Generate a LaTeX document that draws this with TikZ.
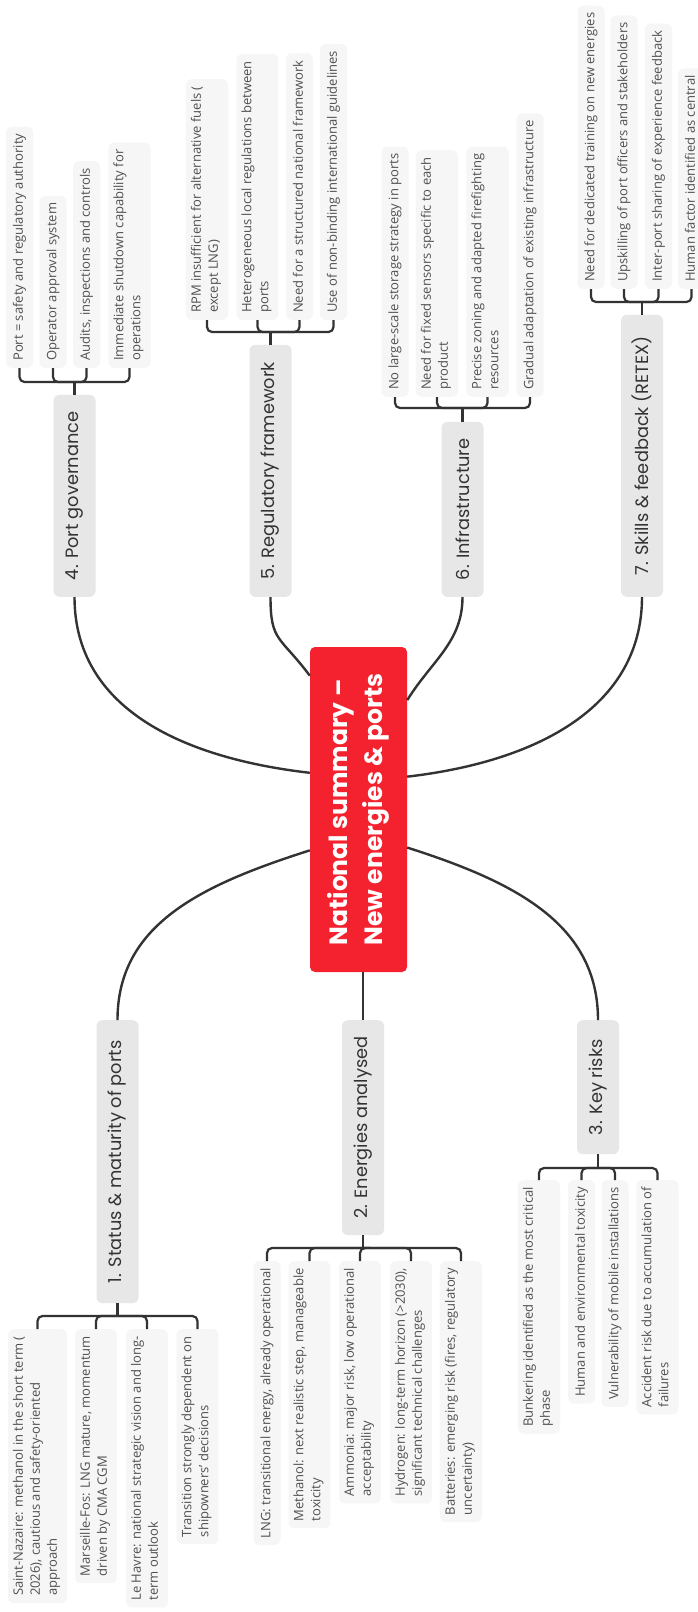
\documentclass[tikz,border=0pt]{standalone}
\usepackage{fontspec}
\setmainfont{Open Sans}
\newfontfamily\headfont{Poppins}
\usepackage{tikz}
\usetikzlibrary{calc}
\definecolor{rootred}{RGB}{244,33,46}
\definecolor{branchgray}{RGB}{231,231,231}
\definecolor{leafgray}{RGB}{246,246,246}
\definecolor{inkgray}{RGB}{51,51,51}
\definecolor{leafink}{RGB}{80,80,80}
\tikzset{
  root/.style={rotate=90, fill=rootred, rounded corners=5pt, text=white,
    font=\headfont\bfseries\fontsize{25}{35}\selectfont, align=left,
    minimum width=325pt, minimum height=97pt, inner sep=0pt},
  branch/.style={rotate=90, fill=branchgray, rounded corners=6pt, text=inkgray,
    font=\headfont\fontsize{17.8}{20}\selectfont, minimum height=42pt, inner sep=0pt},
  leaf/.style={rotate=90, fill=leafgray, rounded corners=6pt, text=leafink,
    font=\fontsize{13}{17}\selectfont, align=left, inner xsep=7pt, inner ysep=5pt,
    execute at begin node=\strut, execute at end node=\strut},
  trunk/.style={draw=inkgray, line width=2.4pt},
  link/.style={draw=inkgray, line width=2.2pt, rounded corners=5pt},
}
\begin{document}
\begin{tikzpicture}[x=1pt,y=-1pt]
      \path[use as bounding box] (0,0) rectangle (698,1612);
      \clip (0,0) rectangle (698,1612);
      \fill[white] (0,0) rectangle (698,1612);

      \node[root] (root) at (358.5,809.5) {National summary –\\New energies \& ports};

      \node[branch, anchor=east, minimum width=283pt] (b1) at (117.5,1020) {1. Status \& maturity of ports};
      \node[branch, anchor=east, minimum width=215pt] (b2) at (363,1020) {2. Energies analysed};
      \node[branch, anchor=east, minimum width=134pt] (b3) at (598,1020) {3. Key risks};
      \node[branch, anchor=west, minimum width=202pt] (b4) at (74.5,597) {4. Port governance};
      \node[branch, anchor=west, minimum width=252pt] (b5) at (270.5,597) {5. Regulatory framework};
      \node[branch, anchor=west, minimum width=175pt] (b6) at (462.5,597) {6. Infrastructure};
      \node[branch, anchor=west, minimum width=282pt] (b7) at (642,597) {7. Skills \& feedback (RETEX)};

      \draw[trunk] (root.130) .. controls +(-110,35) and +(0,-95) .. (b1.east);
      \draw[trunk] (b2.east |- root.west) -- (b2.east);
      \draw[trunk] (root.232) .. controls +(110,35) and +(0,-95) .. (b3.east);
      \draw[trunk] (root.53) .. controls +(-130,-15) and +(0,110) .. (b4.west);
      \draw[trunk] (root.20) .. controls +(-30,-40) and +(0,45) .. (b5.west);
      \draw[trunk] (root.336) .. controls +(25,-40) and +(0,45) .. (b6.west);
      \draw[trunk] (root.304) .. controls +(130,-15) and +(0,110) .. (b7.west);

      \node[leaf, anchor=east] (l11) at (37.5,1329) {Saint-Nazaire: methanol in the short term (\\2026), cautious and safety-oriented\\approach};
      \node[leaf, anchor=east] (l12) at (96,1329) {Marseille-Fos: LNG mature, momentum\\driven by CMA CGM};
      \node[leaf, anchor=east] (l13) at (147,1329) {Le Havre: national strategic vision and long-\\term outlook};
      \node[leaf, anchor=east] (l14) at (197.5,1329) {Transition strongly dependent on\\shipowners' decisions};

      \node[leaf, anchor=east] (l21) at (267,1261) {LNG: transitional energy, already operational};
      \node[leaf, anchor=east] (l22) at (309.5,1261) {Methanol: next realistic step, manageable\\toxicity};
      \node[leaf, anchor=east] (l23) at (360,1261) {Ammonia: major risk, low operational\\acceptability};
      \node[leaf, anchor=east] (l24) at (411,1261) {Hydrogen: long-term horizon (>2030),\\significant technical challenges};
      \node[leaf, anchor=east] (l25) at (461,1261) {Batteries: emerging risk (fires, regulatory\\uncertainty)};

      \node[leaf, anchor=east] (l31) at (539,1180) {Bunkering identified as the most critical\\phase};
      \node[leaf, anchor=east] (l32) at (581.5,1180) {Human and environmental toxicity};
      \node[leaf, anchor=east] (l33) at (615,1180) {Vulnerability of mobile installations};
      \node[leaf, anchor=east] (l34) at (657.5,1180) {Accident risk due to accumulation of\\failures};

      \node[leaf, anchor=west] (l41) at (19.5,368) {Port = safety and regulatory authority};
      \node[leaf, anchor=west] (l42) at (53,368) {Operator approval system};
      \node[leaf, anchor=west] (l43) at (86.5,368) {Audits, inspections and controls};
      \node[leaf, anchor=west] (l44) at (129.5,368) {Immediate shutdown capability for\\operations};

      \node[leaf, anchor=west] (l51) at (207,320) {RPM insufficient for alternative fuels (\\except LNG)};
      \node[leaf, anchor=west] (l52) at (257.5,320) {Heterogeneous local regulations between\\ports};
      \node[leaf, anchor=west] (l53) at (299.5,320) {Need for a structured national framework};
      \node[leaf, anchor=west] (l54) at (333.5,320) {Use of non-binding international guidelines};

      \node[leaf, anchor=west] (l61) at (395,397) {No large-scale storage strategy in ports};
      \node[leaf, anchor=west] (l62) at (437,397) {Need for fixed sensors specific to each\\product};
      \node[leaf, anchor=west] (l63) at (487.5,397) {Precise zoning and adapted firefighting\\resources};
      \node[leaf, anchor=west] (l64) at (530,397) {Gradual adaptation of existing infrastructure};

      \node[leaf, anchor=west] (l71) at (591,289) {Need for dedicated training on new energies};
      \node[leaf, anchor=west] (l72) at (624,289) {Upskilling of port officers and stakeholders};
      \node[leaf, anchor=west] (l73) at (658.5,289) {Inter-port sharing of experience feedback};
      \node[leaf, anchor=west] (l74) at (691.5,289) {Human factor identified as central};

      \coordinate (j1) at (117.5,1316);
      \coordinate (j2) at (363,1248);
      \coordinate (j3) at (598,1168);
      \coordinate (j4) at (74.5,382);
      \coordinate (j5) at (270.5,332);
      \coordinate (j6) at (462.5,408);
      \coordinate (j7) at (642,302);

      \draw[link] (b1.west) -- (j1);
      \draw[link] (b2.west) -- (j2);
      \draw[link] (b3.west) -- (j3);
      \draw[link] (b4.east) -- (j4);
      \draw[link] (b5.east) -- (j5);
      \draw[link] (b6.east) -- (j6);
      \draw[link] (b7.east) -- (j7);

      \foreach \n in {l11,l12,l13,l14} \draw[link] (j1) -| (\n.east);
      \foreach \n in {l21,l22,l23,l24,l25} \draw[link] (j2) -| (\n.east);
      \foreach \n in {l31,l32,l33,l34} \draw[link] (j3) -| (\n.east);
      \foreach \n in {l41,l42,l43,l44} \draw[link] (j4) -| (\n.west);
      \foreach \n in {l51,l52,l53,l54} \draw[link] (j5) -| (\n.west);
      \foreach \n in {l61,l62,l63,l64} \draw[link] (j6) -| (\n.west);
      \foreach \n in {l71,l72,l73,l74} \draw[link] (j7) -| (\n.west);
    \end{tikzpicture}
\end{document}
